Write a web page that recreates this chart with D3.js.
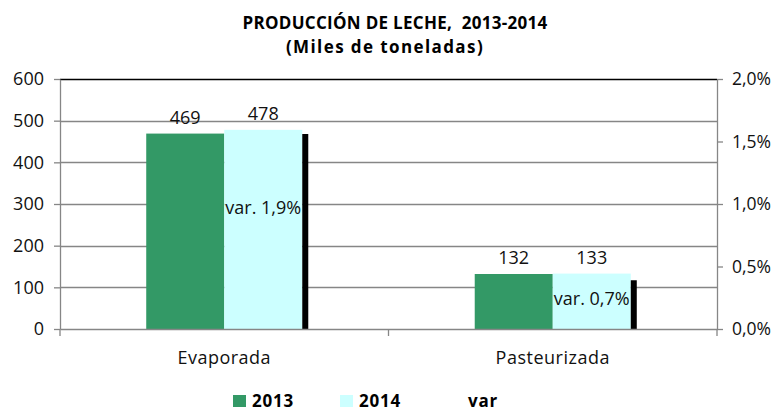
<!DOCTYPE html>
<html>
<head>
<meta charset="utf-8">
<script src="https://cdn.jsdelivr.net/npm/d3@7"></script>
<style>
  html, body { margin: 0; padding: 0; background: #fff; overflow: hidden; }
</style>
</head>
<body>
<div id="chart"></div>
<script>
// datos
const categories = ['Evaporada', 'Pasteurizada'];
const years = ['2013', '2014'];
const values2013 = [469, 132];
const values2014 = [478, 133];
const varBar = [1.56, 0.39];          // altura de la barra negra (eje derecho, %)
const varLabels = ['var. 1,9%', 'var. 0,7%'];
const leftTicks = [0, 100, 200, 300, 400, 500, 600];
const rightTicks = [0, 0.5, 1.0, 1.5, 2.0];

const COLORS = { '2013': '#339966', '2014': '#ccffff', 'var': '#000000' };
const FONT = '"Open Sans", sans-serif';

const width = 777, height = 412;
const margin = { top: 79, right: 60, bottom: 83, left: 60 };
const innerWidth = width - margin.left - margin.right;
const innerHeight = height - margin.top - margin.bottom;

const svg = d3.select('#chart').append('svg')
    .attr('width', width)
    .attr('height', height)
    .style('display', 'block')
    .attr('font-family', FONT);

// título
svg.append('text')
    .attr('x', 395).attr('y', 29).attr('text-anchor', 'middle')
    .attr('font-size', 17).attr('font-weight', 'bold').attr('letter-spacing', 0.3)
    .text('PRODUCCIÓN DE LECHE,\u00a0 2013-2014');
svg.append('text')
    .attr('x', 385).attr('y', 53).attr('text-anchor', 'middle')
    .attr('font-size', 17).attr('font-weight', 'bold').attr('letter-spacing', 1.4)
    .text('(Miles de toneladas)');

const g = svg.append('g')
    .attr('transform', `translate(${margin.left},${margin.top})`);

// escalas
const x = d3.scaleBand().domain(categories).range([0, innerWidth]);
const barW = x.bandwidth() * 0.2375;
const xSub = d3.scaleBand().domain(years).range([-barW, barW]);
const y = d3.scaleLinear().domain([0, 600]).range([innerHeight, 0]);
const yR = d3.scaleLinear().domain([0, 0.02]).range([innerHeight, 0]);
const pct = d => d3.format('.1f')(d * 100).replace('.', ',') + '%';

// líneas de cuadrícula
g.append('g')
    .selectAll('line')
    .data(leftTicks.slice(1))
    .join('line')
    .attr('x1', 0).attr('x2', innerWidth)
    .attr('y1', d => Math.round(y(d)) + 0.5).attr('y2', d => Math.round(y(d)) + 0.5)
    .attr('stroke', d => d === 600 ? '#000' : '#868686')
    .attr('stroke-width', 1.3);

// barras
const rows = categories.map((c, i) => ({ cat: c, '2013': values2013[i], '2014': values2014[i], v: varBar[i], label: varLabels[i] }));

years.forEach(yr => {
    g.append('g').attr('fill', COLORS[yr])
        .selectAll('rect')
        .data(rows)
        .join('rect')
        .attr('x', d => x(d.cat) + x.bandwidth() / 2 + xSub(yr))
        .attr('y', d => y(d[yr]))
        .attr('width', xSub.bandwidth())
        .attr('height', d => innerHeight - y(d[yr]));
});

g.append('g').attr('fill', COLORS.var)
    .selectAll('rect')
    .data(rows)
    .join('rect')
    .attr('x', d => x(d.cat) + x.bandwidth() / 2 + barW)
    .attr('y', d => yR(d.v / 100))
    .attr('width', 6)
    .attr('height', d => innerHeight - yR(d.v / 100));

// etiquetas de valores
years.forEach(yr => {
    g.append('g')
        .selectAll('text')
        .data(rows)
        .join('text')
        .attr('font-size', 18).attr('fill', '#111')
        .attr('text-anchor', 'middle')
        .attr('x', d => x(d.cat) + x.bandwidth() / 2 + xSub(yr) + xSub.bandwidth() / 2)
        .attr('y', d => y(d[yr]) - 10)
        .text(d => d[yr]);
});

g.append('g')
    .selectAll('text')
    .data(rows)
    .join('text')
    .attr('font-size', 18).attr('fill', '#111')
    .attr('text-anchor', 'middle')
    .attr('x', d => x(d.cat) + x.bandwidth() / 2 + xSub('2014') + xSub.bandwidth() / 2)
    .attr('y', d => yR(d.v * 0.62 / 100))
    .attr('dy', '0.35em')
    .text(d => d.label);

// ejes
const axisStyle = sel => {
    sel.attr('font-family', null).attr('font-size', null);
    sel.select('.domain').attr('stroke', '#868686').attr('stroke-width', 1.3);
    sel.selectAll('.tick line').attr('stroke', '#868686').attr('stroke-width', 1.3);
    sel.selectAll('.tick text').attr('fill', '#111').attr('font-size', 18).attr('font-family', FONT);
};

g.append('g')
    .call(d3.axisLeft(y).tickValues(leftTicks).tickSize(6).tickSizeOuter(0).tickPadding(10))
    .call(axisStyle);

g.append('g')
    .attr('transform', `translate(${innerWidth},0)`)
    .call(d3.axisRight(yR).tickValues(rightTicks.map(d => d / 100)).tickFormat(pct).tickSize(6).tickSizeOuter(0).tickPadding(9))
    .call(axisStyle)
    .call(s => s.selectAll('.tick text').attr('font-size', 17.5));

g.append('g')
    .attr('transform', `translate(0,${innerHeight})`)
    .call(d3.axisBottom(x).tickSize(0).tickPadding(22))
    .call(axisStyle)
    .call(s => s.selectAll('.tick text').attr('letter-spacing', 0.5));

// marcas entre categorías
g.append('g')
    .selectAll('line')
    .data([0, innerWidth / 2, innerWidth])
    .join('line')
    .attr('x1', d => d).attr('x2', d => d)
    .attr('y1', innerHeight).attr('y2', innerHeight + 7)
    .attr('stroke', '#868686').attr('stroke-width', 1.3);

// leyenda
const legendItems = [
    { key: '2013', x: 233, marker: true },
    { key: '2014', x: 340, marker: true },
    { key: 'var', x: 449, marker: false }
];
const legend = svg.append('g');
legendItems.forEach(it => {
    if (it.marker) {
        legend.append('rect')
            .attr('x', it.x).attr('y', 395)
            .attr('width', 13).attr('height', 12)
            .attr('fill', COLORS[it.key]);
    }
    legend.append('text')
        .attr('x', it.x + 19).attr('y', 407)
        .attr('font-size', 17).attr('font-weight', 'bold').attr('letter-spacing', 0.8)
        .text(it.key);
});
</script>
</body>
</html>
